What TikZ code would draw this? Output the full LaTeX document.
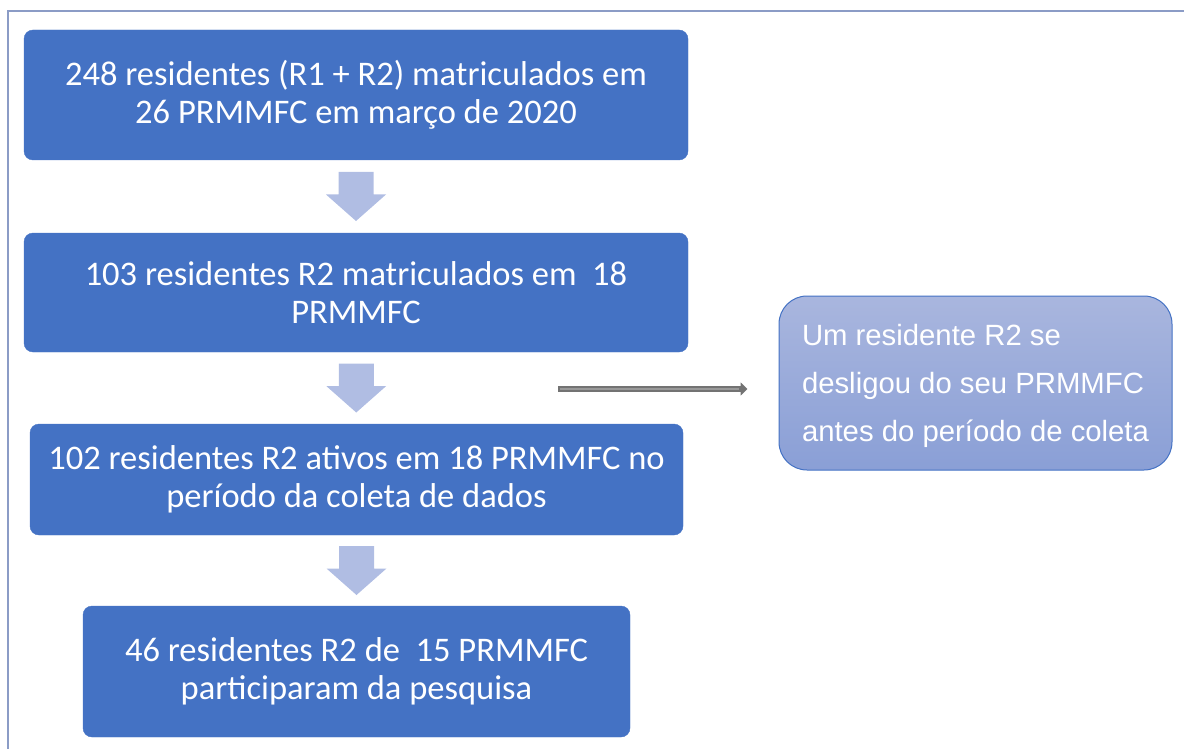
\documentclass[tikz,border=0pt]{standalone}
\usepackage{fontspec}
\setmainfont{Carlito}
\newfontfamily\arialfont{Liberation Sans}
\usetikzlibrary{calc,arrows.meta}
\definecolor{boxblue}{HTML}{4472C4}
\definecolor{arrowblue}{HTML}{B0BDE3}
\definecolor{sidetop}{HTML}{A9B6DE}
\definecolor{sidebot}{HTML}{8A9FD6}
\definecolor{framecol}{HTML}{8B9CC6}

\begin{document}
\begin{tikzpicture}[x=1pt,y=-1pt,
        stepbox/.style={fill=boxblue,draw=boxblue,rounded corners=9pt,text=white,
            align=center,font=\fontsize{34.5}{38}\selectfont,inner sep=0pt},
        sidebox/.style={top color=sidetop,bottom color=sidebot,draw=boxblue,line width=1pt,
            rounded corners=28pt,text=white,align=left,
            font=\arialfont\fontsize{29.3}{48}\selectfont,inner sep=0pt}
    ]
        \useasboundingbox (0,0) rectangle (1184,749);
        \draw[framecol,line width=1.5pt] (8,749) -- (8,11) -- (1184,11);

        \node[stepbox,minimum width=664,minimum height=130] (matric) at (356,95)
            {248 residentes (R1 + R2) matriculados em\\26 PRMMFC em março de 2020};
        \node[stepbox,minimum width=664,minimum height=119] (rdois) at (356,292.5)
            {103 residentes R2 matriculados em~ 18\\PRMMFC};
        \node[stepbox,minimum width=653,minimum height=111] (ativos) at (356.5,479.5)
            {102 residentes R2 ativos em 18 PRMMFC no\\período da coleta de dados};
        \node[stepbox,minimum width=547,minimum height=131] (partic) at (356.5,671.5)
            {46 residentes R2 de~ 15 PRMMFC\\participaram da pesquisa};
        \node[sidebox,minimum width=393,minimum height=174,text depth=0pt] (deslig) at (975.5,383)
            {Um residente R2 se\\desligou do seu PRMMFC\\antes do período de coleta};

        \foreach \a/\b in {matric/rdois,rdois/ativos,ativos/partic}
            \fill[arrowblue] ($(\a.south)!.5!(\b.north)$) +(-17.5,-24.5) -- +(17.5,-24.5)
                -- +(17.5,-2) -- +(30,-2) -- +(0,24.5) -- +(-30,-2) -- +(-17.5,-2) -- cycle;

        \coordinate (saida) at (558,389);
        \coordinate (fim) at ($(deslig.west)+(-31,6)$);
        \draw[line width=5.5pt,color=gray!90!black,-{Triangle[length=7pt,width=13pt]}] (saida) -- (fim);
        \draw[line width=2pt,color=gray!80] ($(saida)+(2,0)$) -- ($(fim)+(-9,0)$);
    \end{tikzpicture}
\end{document}
